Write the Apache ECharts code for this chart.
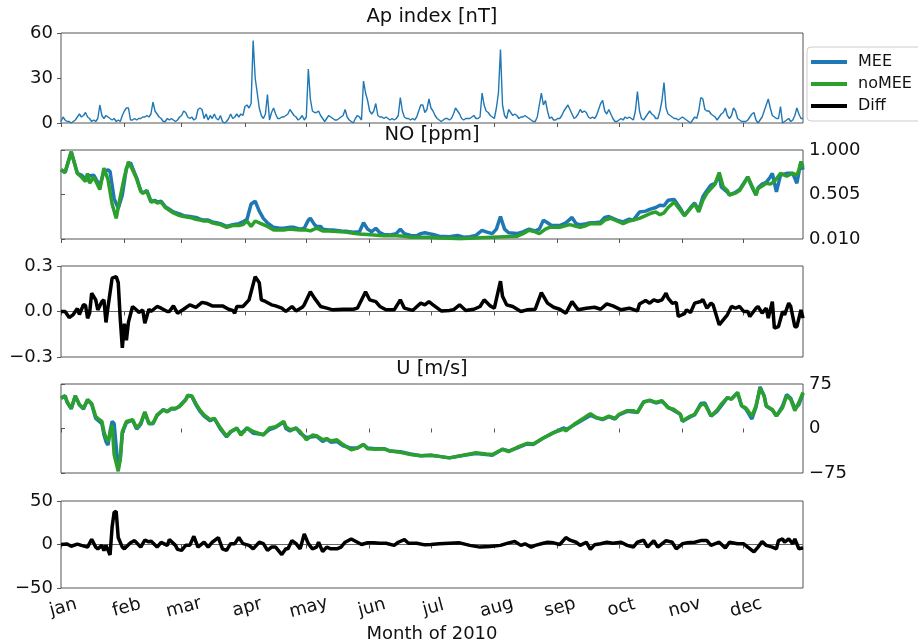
<!DOCTYPE html>
<html>
<head>
<meta charset="utf-8">
<script src="https://cdn.jsdelivr.net/npm/echarts@6/dist/echarts.min.js"></script>
<style>
  html, body { margin: 0; padding: 0; background: #fff; }
  #chart { width: 918px; height: 644px; }
</style>
</head>
<body>
<div id="chart"></div>
<script>
// day of year (0 = 1 jan 2010) of each month start, and the tick labels
const monthStarts = [0, 31, 59, 90, 120, 151, 181, 212, 243, 273, 304, 334];
const monthNames = ['jan', 'feb', 'mar', 'apr', 'may', 'jun', 'jul', 'aug', 'sep', 'oct', 'nov', 'dec'];
const lastDay = 363;

// daily Ap index [nT], one value per day
const apIndex = [
  1, 4, 2, 1, 1, 0, 1, 2, 4, 6,
  4, 5, 7, 4, 3, 1, 2, 1, 3, 12,
  5, 3, 5, 4, 3, 2, 3, 1, 2, 1,
  5, 8, 10, 10, 2, 2, 3, 2, 3, 3,
  4, 4, 5, 4, 6, 14, 8, 6, 4, 3,
  1, 1, 3, 2, 3, 2, 1, 2, 4, 5,
  8, 7, 4, 3, 4, 2, 3, 9, 10, 9,
  3, 6, 2, 5, 3, 6, 3, 2, 5, 1,
  0, 1, 3, 6, 3, 4, 6, 4, 6, 5,
  11, 12, 10, 13, 55, 30, 20, 10, 5, 3,
  6, 19, 2, 7, 10, 6, 3, 3, 4, 4,
  5, 6, 9, 7, 5, 4, 2, 3, 5, 2,
  4, 36, 16, 8, 7, 7, 8, 5, 3, 1,
  3, 5, 4, 3, 2, 2, 3, 4, 5, 9,
  4, 2, 1, 0, 3, 5, 4, 2, 28, 20,
  15, 8, 6, 8, 13, 5, 4, 4, 3, 4,
  3, 2, 3, 2, 3, 5, 17, 8, 4, 3,
  3, 2, 3, 2, 4, 8, 12, 12, 7, 9,
  16, 10, 8, 5, 3, 2, 1, 2, 3, 3,
  2, 3, 6, 10, 8, 6, 3, 2, 3, 3,
  3, 4, 5, 3, 3, 4, 20, 12, 8, 7,
  5, 4, 3, 10, 20, 49, 12, 5, 3, 9,
  7, 5, 6, 5, 3, 4, 4, 5, 4, 3,
  2, 1, 1, 4, 12, 20, 12, 15, 8, 3,
  4, 2, 2, 3, 3, 5, 8, 10, 12, 9,
  6, 3, 4, 6, 9, 7, 8, 7, 4, 3,
  4, 3, 5, 9, 13, 15, 8, 6, 9, 6,
  3, 1, 1, 2, 3, 2, 4, 3, 4, 3,
  2, 8, 21, 8, 3, 2, 4, 6, 8, 6,
  5, 3, 3, 8, 15, 27, 10, 6, 5, 4,
  3, 3, 2, 3, 4, 3, 2, 1, 0, 2,
  4, 3, 8, 17, 16, 9, 8, 8, 6, 5,
  4, 2, 4, 6, 7, 10, 5, 3, 5, 10,
  8, 3, 2, 1, 1, 1, 2, 4, 6, 7,
  2, 0, 2, 4, 8, 12, 16, 10, 5, 4,
  3, 3, 11, 0, 1, 2, 3, 1, 2, 5,
  10, 6, 3, 3
];

// NO [ppm], [day, value]
const nitricOxideMEE = [[0,0.78],[2,0.75],[5,0.98],[8,0.74],[10,0.72],[12,0.68],[13,0.72],[14,0.71],[16,0.72],[19,0.60],[21,0.76],[23,0.78],[24,0.76],[26,0.46],[28,0.35],[30,0.50],[32,0.80],[34,0.86],[35,0.80],[37,0.69],[39,0.55],[40,0.52],[42,0.55],[44,0.43],[46,0.44],[47,0.42],[49,0.43],[51,0.37],[53,0.34],[55,0.31],[58,0.29],[60,0.27],[63,0.26],[66,0.25],[68,0.23],[70,0.22],[72,0.22],[74,0.20],[76,0.19],[78,0.18],[81,0.15],[84,0.17],[87,0.18],[89,0.20],[91,0.23],[93,0.40],[95,0.43],[97,0.32],[99,0.24],[101,0.19],[104,0.14],[107,0.13],[109,0.13],[112,0.14],[114,0.14],[117,0.12],[119,0.13],[121,0.22],[122,0.24],[124,0.17],[125,0.15],[127,0.15],[128,0.12],[131,0.11],[133,0.11],[137,0.10],[140,0.095],[143,0.085],[146,0.09],[148,0.19],[150,0.12],[152,0.09],[154,0.13],[156,0.08],[158,0.06],[161,0.055],[164,0.07],[166,0.12],[168,0.07],[171,0.05],[174,0.045],[176,0.07],[178,0.08],[180,0.07],[182,0.06],[185,0.04],[190,0.035],[194,0.05],[197,0.03],[200,0.035],[203,0.05],[206,0.107],[208,0.09],[211,0.07],[213,0.12],[215,0.26],[217,0.12],[219,0.08],[223,0.07],[226,0.09],[229,0.12],[232,0.10],[234,0.12],[236,0.22],[238,0.19],[240,0.16],[244,0.16],[247,0.19],[250,0.25],[252,0.18],[254,0.17],[257,0.18],[259,0.19],[261,0.19],[264,0.20],[266,0.25],[268,0.26],[270,0.24],[272,0.22],[275,0.20],[278,0.23],[280,0.22],[283,0.31],[286,0.32],[288,0.34],[291,0.36],[293,0.385],[295,0.38],[297,0.44],[300,0.45],[303,0.35],[305,0.27],[308,0.36],[310,0.41],[312,0.33],[314,0.48],[316,0.55],[318,0.61],[320,0.63],[322,0.72],[323,0.59],[326,0.53],[327,0.50],[330,0.53],[332,0.56],[334,0.63],[336,0.70],[338,0.59],[340,0.50],[341,0.58],[343,0.62],[345,0.64],[347,0.70],[348,0.74],[350,0.535],[352,0.72],[355,0.74],[357,0.74],[358,0.74],[360,0.63],[361,0.75],[362,0.87],[363,0.78]];
const nitricOxideNoMEE = [[0,0.78],[2,0.75],[5,0.98],[8,0.74],[10,0.70],[12,0.65],[13,0.74],[14,0.63],[16,0.70],[19,0.56],[21,0.80],[23,0.67],[25,0.40],[27,0.24],[29,0.48],[31,0.70],[33,0.87],[35,0.78],[37,0.68],[39,0.54],[40,0.52],[42,0.54],[44,0.42],[46,0.43],[47,0.41],[49,0.42],[51,0.36],[53,0.33],[55,0.30],[58,0.27],[60,0.26],[63,0.25],[66,0.23],[68,0.22],[70,0.21],[72,0.21],[74,0.19],[76,0.18],[78,0.17],[81,0.14],[84,0.16],[87,0.16],[89,0.17],[91,0.21],[93,0.15],[95,0.21],[97,0.19],[99,0.17],[101,0.15],[104,0.11],[107,0.11],[109,0.11],[112,0.12],[114,0.115],[117,0.11],[120,0.11],[122,0.10],[125,0.13],[128,0.10],[131,0.10],[133,0.095],[137,0.09],[140,0.085],[143,0.075],[146,0.065],[150,0.06],[153,0.055],[156,0.05],[158,0.045],[161,0.045],[164,0.045],[168,0.04],[171,0.03],[176,0.03],[180,0.03],[185,0.02],[190,0.018],[195,0.014],[200,0.018],[205,0.025],[211,0.03],[217,0.035],[223,0.04],[226,0.07],[229,0.107],[232,0.09],[234,0.07],[237,0.12],[239,0.14],[242,0.14],[244,0.14],[247,0.16],[249,0.17],[252,0.15],[254,0.14],[257,0.16],[259,0.18],[261,0.18],[264,0.18],[266,0.22],[269,0.24],[272,0.21],[275,0.18],[278,0.21],[280,0.22],[283,0.24],[286,0.27],[289,0.30],[291,0.31],[293,0.28],[295,0.30],[297,0.36],[300,0.42],[303,0.33],[305,0.27],[308,0.35],[310,0.40],[312,0.31],[314,0.44],[316,0.52],[318,0.57],[320,0.62],[322,0.75],[324,0.59],[326,0.55],[327,0.50],[330,0.52],[332,0.55],[334,0.62],[336,0.70],[338,0.60],[340,0.50],[341,0.57],[343,0.60],[345,0.63],[347,0.62],[349,0.65],[352,0.74],[355,0.71],[357,0.73],[358,0.74],[360,0.72],[361,0.78],[362,0.87],[363,0.81]];
const nitricOxideDiff = [[0,0],[2,0],[4,-0.04],[6,-0.02],[8,0.02],[9,-0.02],[11,0.045],[12,0.04],[13,-0.045],[14,-0.01],[15,0.12],[17,0.077],[18,0.01],[20,0.065],[21,0.077],[22,-0.072],[23,0.03],[25,0.22],[27,0.23],[28,0.19],[29,-0.05],[30,-0.24],[31,-0.08],[32,-0.19],[33,-0.07],[35,0.033],[37,0.01],[38,-0.006],[40,0.01],[41,-0.077],[43,0.015],[44,0],[47,0.033],[49,0.022],[52,0],[53,0],[55,0.037],[57,-0.011],[60,0.015],[63,0.044],[66,0.028],[69,0.06],[71,0.055],[74,0.037],[79,0.037],[82,0.015],[84,0.007],[85,-0.011],[86,0.033],[89,0.033],[92,0.077],[95,0.23],[97,0.19],[98,0.077],[100,0.066],[103,0.044],[105,0.037],[108,0.022],[110,0],[113,0.033],[115,0.004],[118,0.028],[119,0.044],[122,0.13],[124,0.088],[127,0.033],[130,0.022],[133,0.011],[138,0.015],[143,0.015],[145,0.022],[149,0.13],[151,0.077],[154,0.065],[156,0.033],[159,0.011],[163,0.011],[166,0.077],[168,0.022],[172,0.007],[176,0.055],[178,0.044],[180,0.065],[182,0.044],[186,0.004],[190,0.007],[192,0.011],[195,0.044],[198,0.007],[202,0.015],[205,0.033],[207,0.077],[210,0.037],[212,0.022],[215,0.20],[216,0.1],[218,0.044],[221,0.033],[225,0],[228,0.011],[232,0.015],[235,0.125],[238,0.055],[241,0.028],[244,0.015],[247,-0.011],[250,0.065],[253,0.011],[257,0.022],[261,0.028],[264,0.015],[267,0.05],[270,0.037],[274,0.011],[278,0.022],[282,0.004],[283,0.05],[286,0.072],[288,0.055],[290,0.077],[292,0.066],[294,0.077],[296,0.12],[297,0.088],[299,0.055],[301,0.06],[302,-0.033],[305,-0.015],[306,0.011],[308,-0.007],[310,0.055],[313,0.066],[314,0.08],[316,0.022],[318,0.055],[319,0.044],[322,-0.088],[324,-0.055],[326,-0.022],[328,0.033],[330,0.022],[332,0.033],[334,0],[336,0],[337,-0.033],[340,0.022],[341,0.033],[343,-0.011],[345,0.022],[346,-0.044],[348,0.065],[349,-0.11],[351,-0.1],[353,0],[354,-0.022],[356,0.055],[357,0.033],[359,-0.1],[360,-0.1],[362,0.011],[363,-0.044]];

// zonal wind U [m/s], [day, value]
const windMEE = [[0,51],[2,55],[3,44],[5,33],[7,55],[9,40],[11,33],[13,48],[15,41],[17,17],[18,14],[20,8],[21,-10],[22,-22],[23,-28],[24,-5],[25,12],[26,8],[27,-30],[28,-66],[29,-52],[30,-8],[32,10],[35,14],[37,-1],[39,7],[41,27],[43,8],[45,8],[47,22],[50,32],[52,29],[54,33],[56,33],[58,38],[61,49],[62,56],[64,54],[66,40],[68,29],[70,21],[73,13],[75,17],[78,-1],[81,-14],[83,-6],[86,0],[88,-9],[91,1],[94,-8],[99,-10],[102,-2],[105,2],[109,11],[110,0],[112,-4],[115,1],[117,-8],[120,-15],[123,-14],[125,-13],[128,-22],[130,-18],[132,-23],[135,-22],[138,-29],[142,-33],[145,-33],[148,-27],[150,-33],[154,-34],[158,-34],[161,-38],[166,-39],[171,-43],[176,-46],[181,-45],[185,-47],[190,-49.5],[197,-45],[203,-42],[208,-44],[211,-45],[216,-35],[219,-38],[223,-33],[228,-26],[231,-27],[236,-16],[241,-7],[246,1],[247,-2],[251,6],[256,16],[259,22],[262,18],[265,15],[268,20],[271,16],[273,23],[277,29],[280,28],[282,27],[285,45],[288,47],[291,43],[294,46],[297,36],[300,30],[303,24],[304,12],[308,20],[310,23],[313,42],[315,43],[318,21],[321,29],[323,38],[326,52],[328,50],[331,60],[333,38],[335,33],[338,16],[340,36],[342,70],[344,55],[345,38],[348,31],[350,21],[353,38],[355,57],[357,51],[359,34],[361,40],[363,59]];
const windNoMEE = [[0,51],[2,55],[3,45],[5,34],[7,55],[9,40],[11,34],[13,49],[15,42],[17,20],[18,17],[20,12],[21,-5],[22,-16],[23,-22],[25,6],[26,-44],[28,-72],[29,-50],[30,-5],[32,12],[35,15],[37,1],[39,9],[41,28],[43,9],[45,9],[47,23],[50,31],[52,28],[54,34],[56,34],[58,37],[61,48],[62,55],[64,55],[66,42],[68,31],[70,23],[73,15],[75,17],[78,1],[81,-13],[83,-5],[86,1],[88,-11],[91,1],[94,-5],[99,-11],[102,1],[105,3],[109,12],[110,3],[112,-2],[115,0],[117,-5],[120,-19],[123,-11],[125,-12],[128,-19],[130,-17],[132,-21],[135,-19],[138,-27],[142,-36],[145,-33],[148,-27],[150,-34],[154,-35],[158,-34],[161,-38],[166,-40],[171,-44],[176,-46],[181,-45],[185,-47],[190,-49.5],[197,-45],[203,-41],[208,-43],[211,-44],[216,-35],[219,-39],[223,-32],[228,-25],[231,-26],[236,-16],[241,-7],[246,-1],[247,-4],[251,7],[256,18],[259,25],[262,18],[265,16],[268,21],[271,17],[273,24],[277,30],[280,30],[282,27],[285,44],[288,48],[291,44],[294,47],[297,35],[300,32],[303,24],[304,13],[308,21],[310,24],[313,40],[315,41],[318,21],[321,31],[323,41],[326,52],[328,49],[331,61],[333,38],[335,35],[338,21],[340,38],[342,68],[344,55],[345,38],[348,32],[350,21],[353,35],[355,55],[357,49],[359,30],[361,44],[363,61]];
const windDiff = [[0,0],[3,0.5],[5,-2],[8,0.5],[10,-1],[13,-3],[15,6],[17,-3],[18,-5],[20,-1],[21,-7],[22,-1],[24,-12],[25,20],[26,37],[27,38],[28,8],[30,-3],[31,-5],[34,2],[36,4.5],[39,-3],[41,5],[43,3],[44,4],[47,-3],[49,2.5],[52,-1],[53,5.6],[56,-1],[57,-5.6],[59,-6.7],[61,-1],[63,-1],[65,9.4],[67,-3],[70,2.6],[72,-3],[74,2.6],[77,8],[79,-5],[81,-6.7],[83,1],[85,1],[87,8],[89,1],[92,-1],[94,-5],[97,2.6],[99,1],[101,-6.7],[103,-3],[105,-3],[108,-11.6],[110,-5],[111,-5],[113,4.5],[115,1],[117,-5],[119,12],[121,1],[123,-5],[125,-3],[126,2.6],[128,-8],[130,-3],[132,-5],[135,-5],[137,-3],[139,2.6],[142,6.4],[145,2.6],[147,0],[150,2],[153,2],[156,1.5],[159,1.5],[163,-1],[165,2.6],[168,5.6],[170,1.5],[174,1.5],[178,-0.4],[181,0],[185,0.8],[190,1.5],[195,1.9],[200,-1],[205,-3],[210,-2.3],[215,-1],[219,1.9],[222,3.4],[225,-1],[227,0.8],[230,-3],[232,-1],[235,0.8],[238,2.6],[241,1.9],[244,0],[247,8],[249,5],[252,2.6],[254,-1],[257,2.6],[259,-5.6],[261,-0.4],[264,0.8],[267,2.6],[270,1.5],[274,2.6],[277,-1],[280,-3],[282,2.6],[285,5],[287,-3],[290,4.5],[292,-3],[296,4.5],[299,2.6],[301,-5],[304,0.8],[306,1.9],[310,2.6],[313,4.5],[316,4.5],[318,-1],[322,2.6],[325,-4],[327,2.6],[331,0.8],[334,0.8],[336,-3],[339,-8.6],[341,-3],[343,3.4],[345,-1],[348,-3],[350,-5],[351,4.5],[353,6.4],[354,2.6],[356,6.4],[358,0.8],[359,6.4],[361,-5],[363,-3.7]];

// y tick values per panel
const apTicks = [0, 30, 60];
const noTicks = [0.01, 0.505, 1.0];
const noDiffTicks = [-0.3, 0, 0.3];
const windTicks = [-75, 0, 75];
const windDiffTicks = [-50, 0, 50];

const FONT = 'DejaVu Sans';
const BLUE = '#1f77b4';
const GREEN = '#2ca02c';
const FRAME = '#555';

const chart = echarts.init(document.getElementById('chart'));

const panelTops = [33, 150, 266, 384, 501];
const panelHeights = [90, 89, 91, 89, 89];

const minus = s => String(s).replace('-', '\u2212');

function xAxisFor(i) {
  const last = i === 4;
  return {
    type: 'value', gridIndex: i, min: 0, max: lastDay,
    axisLine: { show: false },
    axisTick: { show: true, customValues: monthStarts, length: 4, lineStyle: { color: FRAME } },
    axisLabel: {
      show: last, customValues: monthStarts,
      formatter: v => monthNames[monthStarts.indexOf(v)],
      rotate: 15, align: 'center', verticalAlign: 'top',
      fontSize: 18, color: '#111', fontFamily: FONT, margin: 11
    },
    splitLine: { show: false },
    name: last ? 'Month of 2010' : '',
    nameLocation: 'middle', nameGap: 37,
    nameTextStyle: { fontSize: 18, color: '#111', fontFamily: FONT }
  };
}

function yAxisFor(i, pos, ticks, fmt) {
  return {
    type: 'value', gridIndex: i, position: pos,
    min: ticks[0], max: ticks[ticks.length - 1],
    axisLine: { show: false },
    axisTick: { show: true, customValues: ticks, length: 4, lineStyle: { color: FRAME } },
    axisLabel: {
      customValues: ticks, formatter: v => minus(fmt(v)),
      fontSize: 18, color: '#111', fontFamily: FONT, margin: pos === 'left' ? 8 : 6
    },
    splitLine: { show: false }
  };
}

function line(name, data, xi, color, width, z) {
  return {
    name, type: 'line', data, xAxisIndex: xi, yAxisIndex: xi,
    showSymbol: false, symbol: 'none', z,
    lineStyle: { color, width }, itemStyle: { color },
    emphasis: { disabled: true }
  };
}

function zeroLine(xi) {
  return {
    type: 'line', data: [[0, 0], [lastDay, 0]], xAxisIndex: xi, yAxisIndex: xi,
    symbol: 'none', silent: true, z: 1,
    lineStyle: { color: '#666', width: 1 }
  };
}

const titleStyle = { fontSize: 19.5, fontWeight: 'normal', color: '#111', fontFamily: FONT };

chart.setOption({
  animation: false,
  backgroundColor: '#fff',
  title: [
    { text: 'Ap index [nT]', left: 432, top: panelTops[0] - 26, textAlign: 'center', textStyle: titleStyle, padding: 0 },
    { text: 'NO [ppm]', left: 432, top: panelTops[1] - 25, textAlign: 'center', textStyle: titleStyle, padding: 0 },
    { text: 'U [m/s]', left: 432, top: panelTops[3] - 25, textAlign: 'center', textStyle: titleStyle, padding: 0 }
  ],
  legend: {
    data: ['MEE', 'noMEE', 'Diff'],
    orient: 'vertical', left: 807, top: 47,
    icon: 'rect', itemWidth: 36, itemHeight: 4, itemGap: 6,
    textStyle: { fontSize: 16, color: '#111', fontFamily: FONT, padding: [0, 0, 0, 6] },
    backgroundColor: '#fff', borderColor: '#ccc', borderWidth: 1, borderRadius: 4,
    padding: [7, 20, 7, 4]
  },
  grid: panelTops.map((t, i) => ({
    left: 61, width: 742, top: t, height: panelHeights[i],
    show: true, borderColor: FRAME, borderWidth: 1, backgroundColor: 'transparent'
  })),
  xAxis: [0, 1, 2, 3, 4].map(xAxisFor),
  yAxis: [
    yAxisFor(0, 'left', apTicks, v => v),
    yAxisFor(1, 'right', noTicks, v => v.toFixed(3)),
    yAxisFor(2, 'left', noDiffTicks, v => v.toFixed(1)),
    yAxisFor(3, 'right', windTicks, v => v),
    yAxisFor(4, 'left', windDiffTicks, v => v)
  ],
  series: [
    line('Ap', apIndex.map((v, d) => [d, v]), 0, BLUE, 1.4, 2),
    line('MEE', nitricOxideMEE, 1, BLUE, 3.5, 2),
    line('noMEE', nitricOxideNoMEE, 1, GREEN, 3.5, 3),
    zeroLine(2),
    line('Diff', nitricOxideDiff, 2, '#000', 3.5, 2),
    line('MEE', windMEE, 3, BLUE, 3.5, 2),
    line('noMEE', windNoMEE, 3, GREEN, 3.5, 3),
    zeroLine(4),
    line('Diff', windDiff, 4, '#000', 3.5, 2)
  ]
});
</script>
</body>
</html>
